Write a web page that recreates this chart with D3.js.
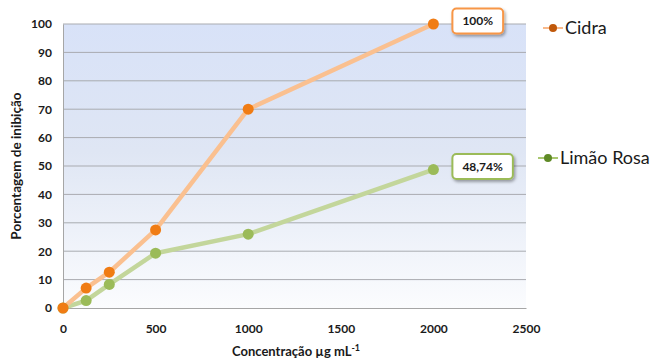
<!DOCTYPE html>
<html>
<head>
<meta charset="utf-8">
<script src="https://cdn.jsdelivr.net/npm/d3@7"></script>
<style>
  html, body { margin: 0; padding: 0; background: #ffffff; }
  svg { display: block; }
  text { font-family: Lato, "Open Sans", sans-serif; }
</style>
</head>
<body>
<svg id="chart" width="654" height="360"></svg>
<script>
// Concentrations (µg mL-1) and inhibition percentages per extract
const concentrations = [0, 125, 250, 500, 1000, 2000];
const cidraValues = [0, 7.0, 12.6, 27.5, 70.0, 100];
const limaoValues = [0, 2.6, 8.3, 19.3, 26.0, 48.74];
const seriesNames = ["Cidra", "Limão Rosa"];
const endLabels = ["100%", "48,74%"];
const xTicks = [0, 500, 1000, 1500, 2000, 2500];
const yTicks = [0, 10, 20, 30, 40, 50, 60, 70, 80, 90, 100];

const series = [
  { name: seriesNames[0], values: cidraValues, label: endLabels[0],
    line: "#fac090", dot: "#f07c14", border: "#f79646", legendDot: "#c0580a", legendLine: "#f9b98a" },
  { name: seriesNames[1], values: limaoValues, label: endLabels[1],
    line: "#c3d69b", dot: "#9bbb59", border: "#9bbb59", legendDot: "#5f8a26", legendLine: "#a9c770" }
];

const svg = d3.select("#chart");
const margin = { left: 63, right: 128, top: 24, bottom: 52 };
const W = 654, H = 360;

const x = d3.scaleLinear().domain([0, 2500]).range([margin.left, W - margin.right]);
const y = d3.scaleLinear().domain([0, 100]).range([H - margin.bottom, margin.top]);

const defs = svg.append("defs");
const grad = defs.append("linearGradient").attr("id", "plotBg")
  .attr("x1", 0).attr("y1", 0).attr("x2", 0).attr("y2", 1);
grad.append("stop").attr("offset", "0%").attr("stop-color", "#d8e2f8");
grad.append("stop").attr("offset", "45%").attr("stop-color", "#dfe6f4");
grad.append("stop").attr("offset", "100%").attr("stop-color", "#fbfcfe");

const shadow = defs.append("filter").attr("id", "boxShadow")
  .attr("x", "-20%").attr("y", "-30%").attr("width", "150%").attr("height", "170%");
shadow.append("feDropShadow").attr("dx", 1.5).attr("dy", 2).attr("stdDeviation", 1.5)
  .attr("flood-color", "#000").attr("flood-opacity", 0.35);

// Plot area background
svg.append("rect")
  .attr("x", x(0)).attr("y", y(100))
  .attr("width", x(2500) - x(0)).attr("height", y(0) - y(100))
  .attr("fill", "url(#plotBg)");

// Horizontal gridlines
svg.append("g").selectAll("line").data(yTicks.filter(d => d > 0)).join("line")
  .attr("x1", x(0)).attr("x2", x(2500))
  .attr("y1", d => y(d)).attr("y2", d => y(d))
  .attr("stroke", "#a9abb0").attr("stroke-width", 1);

// Axes
const yAxis = svg.append("g").attr("transform", `translate(${x(0)},0)`)
  .call(d3.axisLeft(y).tickValues(yTicks).tickFormat(d3.format("d")).tickSize(0).tickPadding(11));
const xAxis = svg.append("g").attr("transform", `translate(0,${y(0)})`)
  .call(d3.axisBottom(x).tickValues(xTicks).tickFormat(d3.format("d")).tickSize(0).tickPadding(16));
[yAxis, xAxis].forEach(g => {
  g.select(".domain").attr("stroke", "#a6a6a6").attr("stroke-width", 1);
  g.selectAll("text").attr("font-size", 12).attr("font-weight", "bold")
    .attr("fill", "#1a1a1a").attr("font-family", "Lato, sans-serif");
});

// Axis titles
svg.append("text")
  .attr("transform", `translate(21,${(y(0) + y(100)) / 2}) rotate(-90)`)
  .attr("text-anchor", "middle")
  .attr("font-size", 13.5).attr("font-weight", "bold").attr("fill", "#1a1a1a")
  .text("Porcentagem de inibição");

const xTitle = svg.append("text")
  .attr("x", 296).attr("y", 356)
  .attr("text-anchor", "middle")
  .attr("font-size", 13).attr("font-weight", "bold").attr("fill", "#1a1a1a");
xTitle.append("tspan").text("Concentração µg mL");
xTitle.append("tspan").attr("dy", -5).attr("font-size", 9).text("-1");

// Lines and markers
const line = d3.line().x((d, i) => x(concentrations[i])).y(d => y(d));
series.slice().reverse().forEach(s => {
  svg.append("path").datum(s.values)
    .attr("d", line)
    .attr("fill", "none")
    .attr("stroke", s.line)
    .attr("stroke-width", 4.5)
    .attr("stroke-linejoin", "round");
});
series.slice().reverse().forEach(s => {
  svg.append("g").selectAll("circle").data(s.values).join("circle")
    .attr("cx", (d, i) => x(concentrations[i]))
    .attr("cy", d => y(d))
    .attr("r", 5.5)
    .attr("fill", s.dot);
});

// Value callouts at the last point
series.forEach(s => {
  const last = s.values.length - 1;
  const px = x(concentrations[last]);
  const py = y(s.values[last]);
  const g = svg.append("g");
  const t = g.append("text")
    .attr("font-size", 12).attr("font-weight", "bold").attr("fill", "#1a1a1a")
    .attr("text-anchor", "middle")
    .text(s.label);
  const tw = t.node().getComputedTextLength();
  const bw = tw + 20, bh = 25;
  const bx = px + 19, by = py - bh / 2 - 3;
  g.insert("rect", "text")
    .attr("x", bx).attr("y", by).attr("width", bw).attr("height", bh)
    .attr("rx", 4).attr("fill", "#ffffff")
    .attr("stroke", s.border).attr("stroke-width", 2)
    .attr("filter", "url(#boxShadow)");
  t.attr("x", bx + bw / 2).attr("y", by + bh / 2 + 4);
});

// Legend
const legendPos = [{ lx: 543, ly: 28 }, { lx: 538, ly: 158 }];
series.forEach((s, i) => {
  const p = legendPos[i];
  const g = svg.append("g");
  g.append("line").attr("x1", p.lx).attr("x2", p.lx + 20)
    .attr("y1", p.ly).attr("y2", p.ly)
    .attr("stroke", s.legendLine).attr("stroke-width", 2);
  g.append("circle").attr("cx", p.lx + 10).attr("cy", p.ly).attr("r", 4)
    .attr("fill", s.legendDot);
  g.append("text").attr("x", p.lx + 22).attr("y", p.ly + 6)
    .attr("font-size", 18).attr("fill", "#1a1a1a")
    .text(s.name);
});
</script>
</body>
</html>
